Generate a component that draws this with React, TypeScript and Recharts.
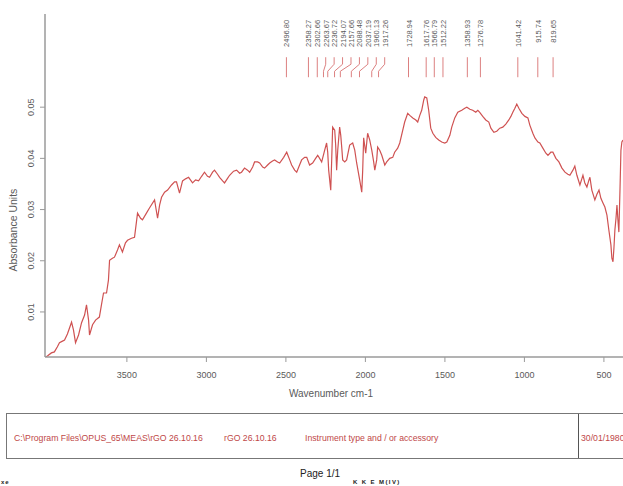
import React from 'react';
import { LineChart, Line, XAxis, YAxis, ReferenceLine, ReferenceDot } from 'recharts';

// spectrum: wavenumber (cm-1) and absorbance
const WAVENUMBER = [
  4012, 4000, 3975, 3956, 3937, 3924, 3905, 3892, 3874, 3848, 3836, 3823, 3804, 3785, 3766, 3754, 3741, 3735, 3716, 3697,
  3673, 3660, 3647, 3628, 3616, 3609, 3591, 3578, 3559, 3547, 3528, 3509, 3496, 3471, 3452, 3433, 3414, 3402, 3377, 3358,
  3326, 3307, 3294, 3282, 3263, 3244, 3219, 3200, 3188, 3169, 3150, 3131, 3112, 3087, 3068, 3049, 3030, 3012, 2993, 2980,
  2961, 2949, 2930, 2917, 2898, 2886, 2867, 2854, 2829, 2810, 2791, 2779, 2760, 2741, 2728, 2709, 2697, 2678, 2665, 2646,
  2634, 2615, 2602, 2584, 2571, 2552, 2539, 2514, 2495, 2476, 2464, 2445, 2432, 2414, 2401, 2382, 2369, 2351, 2332, 2313,
  2300, 2288, 2275, 2256, 2244, 2237, 2231, 2218, 2212, 2206, 2193, 2187, 2181, 2174, 2162, 2155, 2149, 2143, 2130, 2118,
  2099, 2080, 2067, 2055, 2036, 2023, 2017, 2011, 1998, 1986, 1973, 1960, 1948, 1941, 1929, 1923, 1910, 1897, 1878, 1866,
  1847, 1828, 1816, 1797, 1784, 1765, 1753, 1734, 1721, 1702, 1683, 1671, 1658, 1646, 1633, 1627, 1614, 1602, 1589, 1576,
  1558, 1539, 1520, 1501, 1488, 1469, 1457, 1438, 1419, 1394, 1375, 1362, 1343, 1325, 1306, 1293, 1281, 1262, 1243, 1224,
  1211, 1192, 1174, 1155, 1136, 1117, 1098, 1085, 1073, 1060, 1048, 1035, 1016, 997, 978, 966, 947, 934, 915, 903,
  884, 865, 852, 834, 821, 802, 783, 764, 745, 727, 714, 695, 683, 670, 651, 638, 632, 620, 607, 594,
  588, 576, 557, 544, 531, 519, 506, 494, 481, 469, 456, 450, 443, 437, 431, 424, 418, 412, 406, 399,
  393, 387, 380,
];

const ABSORBANCE = [
  0.0012, 0.0014, 0.0020, 0.0022, 0.0032, 0.0040, 0.0043, 0.0045, 0.0057, 0.0080, 0.0065, 0.0040, 0.0055, 0.0079, 0.0094, 0.0114, 0.0084, 0.0055, 0.0075, 0.0084,
  0.0090, 0.0114, 0.0137, 0.0137, 0.0162, 0.0201, 0.0205, 0.0207, 0.0221, 0.0231, 0.0217, 0.0235, 0.0240, 0.0244, 0.0246, 0.0293, 0.0283, 0.0280, 0.0293, 0.0303,
  0.0319, 0.0283, 0.0309, 0.0324, 0.0334, 0.0338, 0.0348, 0.0354, 0.0354, 0.0332, 0.0356, 0.0360, 0.0363, 0.0352, 0.0358, 0.0356, 0.0365, 0.0373, 0.0365, 0.0363,
  0.0373, 0.0377, 0.0369, 0.0363, 0.0356, 0.0352, 0.0361, 0.0367, 0.0375, 0.0377, 0.0371, 0.0373, 0.0381, 0.0377, 0.0373, 0.0383, 0.0393, 0.0393, 0.0391, 0.0383,
  0.0381, 0.0387, 0.0391, 0.0395, 0.0397, 0.0393, 0.0391, 0.0402, 0.0412, 0.0397, 0.0387, 0.0377, 0.0373, 0.0387, 0.0397, 0.0402, 0.0402, 0.0387, 0.0391, 0.0400,
  0.0406, 0.0400, 0.0393, 0.0416, 0.0430, 0.0412, 0.0377, 0.0338, 0.0397, 0.0461, 0.0455, 0.0426, 0.0377, 0.0416, 0.0461, 0.0445, 0.0422, 0.0397, 0.0393, 0.0397,
  0.0426, 0.0430, 0.0416, 0.0391, 0.0358, 0.0334, 0.0377, 0.0440, 0.0410, 0.0449, 0.0436, 0.0416, 0.0393, 0.0377, 0.0397, 0.0422, 0.0416, 0.0406, 0.0387, 0.0393,
  0.0400, 0.0402, 0.0412, 0.0420, 0.0430, 0.0455, 0.0471, 0.0488, 0.0484, 0.0479, 0.0475, 0.0471, 0.0484, 0.0494, 0.0514, 0.0520, 0.0518, 0.0494, 0.0459, 0.0449,
  0.0441, 0.0436, 0.0432, 0.0430, 0.0432, 0.0445, 0.0461, 0.0479, 0.0490, 0.0494, 0.0498, 0.0500, 0.0496, 0.0494, 0.0490, 0.0494, 0.0490, 0.0482, 0.0475, 0.0471,
  0.0459, 0.0451, 0.0453, 0.0459, 0.0461, 0.0467, 0.0475, 0.0482, 0.0490, 0.0498, 0.0506, 0.0498, 0.0488, 0.0482, 0.0479, 0.0465, 0.0449, 0.0440, 0.0432, 0.0430,
  0.0420, 0.0410, 0.0406, 0.0412, 0.0412, 0.0400, 0.0393, 0.0381, 0.0373, 0.0369, 0.0367, 0.0377, 0.0385, 0.0367, 0.0348, 0.0361, 0.0367, 0.0352, 0.0344, 0.0358,
  0.0363, 0.0338, 0.0319, 0.0330, 0.0338, 0.0322, 0.0313, 0.0305, 0.0289, 0.0260, 0.0231, 0.0205, 0.0198, 0.0225, 0.0260, 0.0283, 0.0309, 0.0280, 0.0256, 0.0338,
  0.0416, 0.0432, 0.0436,
];

// picked peaks shown above the spectrum
const PEAKS = [
  2496.8, 2358.27, 2302.66, 2263.67, 2236.72, 2194.07, 2157.66, 2088.48, 2037.19, 1960.13,
  1917.26, 1728.94, 1617.76, 1566.79, 1512.22, 1358.93, 1276.78, 1041.42, 915.74, 819.65,
];

const X_TICKS = [3500, 3000, 2500, 2000, 1500, 1000, 500];
const Y_TICKS = [0.01, 0.02, 0.03, 0.04, 0.05];

const FONT = '"Liberation Sans", Arial, sans-serif';
const AXIS_GREY = '#9a9a9a';
const TEXT_GREY = '#5a5a5a';
const CURVE_RED = '#cf5252';
const PEAK_RED = '#dc8080';
const BOX_RED = '#c04848';

const X_DOMAIN: [number, number] = [380, 4015];
const Y_DOMAIN: [number, number] = [0.0012, 0.0682];

// heights (absorbance units) of the peak marker lines and label anchor
const MARK_TOP = 0.05976;
const MARK_BEND1 = 0.05839;
const MARK_BEND2 = 0.05702;
const MARK_BOTTOM = 0.05585;
const LABEL_Y = 0.06707;
const LABEL_GAP = 53; // cm-1 between neighbouring labels

const spectrum = WAVENUMBER.map((w, i) => ({ w, a: ABSORBANCE[i] })).filter((d) => d.a !== undefined);

// push crowded labels apart, lines bend back to the real peak
const peakLabels: { p: number; lx: number }[] = [];
let prevLabel = Infinity;
PEAKS.forEach((p) => {
  const lx = Math.min(p, prevLabel - LABEL_GAP);
  peakLabels.push({ p, lx: Math.abs(lx - p) < 3 ? p : lx });
  prevLabel = lx;
});

const YTick = (props: any) => {
  const { x, y, payload } = props;
  const tx = x - 4;
  return (
    <text
      x={tx}
      y={y}
      transform={`rotate(-90 ${tx} ${y})`}
      textAnchor="middle"
      fontSize={9}
      fill={TEXT_GREY}
      fontFamily={FONT}
    >
      {payload.value.toFixed(2)}
    </text>
  );
};

const peakText = (label: string) => (props: any) => {
  const { cx, cy } = props;
  const tx = cx + 3;
  return (
    <text
      x={tx}
      y={cy}
      transform={`rotate(-90 ${tx} ${cy})`}
      textAnchor="end"
      fontSize={7.5}
      fill={TEXT_GREY}
      fontFamily={FONT}
    >
      {label}
    </text>
  );
};

const yTitle = (props: any) => {
  const vb = props.viewBox || { x: 0, y: 14, width: 45, height: 343 };
  const tx = vb.x + 17;
  const ty = vb.y + vb.height * 0.63;
  return (
    <text
      x={tx}
      y={ty}
      transform={`rotate(-90 ${tx} ${ty})`}
      textAnchor="middle"
      fontSize={10.5}
      fill={TEXT_GREY}
      fontFamily={FONT}
    >
      Absorbance Units
    </text>
  );
};

const xTitle = (props: any) => {
  const vb = props.viewBox || { x: 45, y: 357, width: 578, height: 40 };
  return (
    <text
      x={vb.x + vb.width / 2 - 3}
      y={vb.y + 39.5}
      textAnchor="middle"
      fontSize={10}
      fill={TEXT_GREY}
      fontFamily={FONT}
    >
      Wavenumber cm-1
    </text>
  );
};

const boxText: React.CSSProperties = {
  position: 'absolute',
  top: 19,
  fontSize: 8.7,
  lineHeight: '10px',
  color: BOX_RED,
  fontFamily: FONT,
  whiteSpace: 'nowrap',
};

export default function App() {
  return (
    <div
      style={{
        position: 'absolute',
        left: 0,
        top: 0,
        width: 623,
        height: 486,
        overflow: 'hidden',
        background: '#fff',
        fontFamily: FONT,
      }}
    >
      <LineChart width={623} height={405} data={spectrum} margin={{ top: 14, right: 0, bottom: 8, left: 0 }}>
        <XAxis
          dataKey="w"
          type="number"
          domain={X_DOMAIN}
          reversed
          allowDataOverflow
          ticks={X_TICKS}
          height={40}
          tickSize={5}
          tickMargin={10}
          axisLine={{ stroke: AXIS_GREY, strokeWidth: 1.5 }}
          tickLine={{ stroke: AXIS_GREY }}
          tick={{ fontSize: 9, fill: TEXT_GREY, fontFamily: FONT }}
          label={{ content: xTitle }}
        />
        <XAxis
          xAxisId="top"
          orientation="top"
          type="number"
          domain={X_DOMAIN}
          reversed
          allowDataOverflow
          height={0}
          tick={false}
          tickLine={false}
          axisLine={{ stroke: AXIS_GREY, strokeWidth: 1.5 }}
        />
        <YAxis
          type="number"
          domain={Y_DOMAIN}
          allowDataOverflow
          ticks={Y_TICKS}
          width={45}
          tickSize={5}
          axisLine={{ stroke: AXIS_GREY, strokeWidth: 1.5 }}
          tickLine={{ stroke: AXIS_GREY }}
          tick={<YTick />}
          label={{ content: yTitle }}
        />
        {peakLabels.map(({ p, lx }) =>
          lx === p ? (
            <ReferenceLine
              key={`l${p}`}
              segment={[{ x: p, y: MARK_TOP }, { x: p, y: MARK_BOTTOM }]}
              stroke={PEAK_RED}
              strokeWidth={1}
            />
          ) : (
            <React.Fragment key={`l${p}`}>
              <ReferenceLine
                segment={[{ x: lx, y: MARK_TOP }, { x: lx, y: MARK_BEND1 }]}
                stroke={PEAK_RED}
                strokeWidth={1}
              />
              <ReferenceLine
                segment={[{ x: lx, y: MARK_BEND1 }, { x: p, y: MARK_BEND2 }]}
                stroke={PEAK_RED}
                strokeWidth={1}
              />
              <ReferenceLine
                segment={[{ x: p, y: MARK_BEND2 }, { x: p, y: MARK_BOTTOM }]}
                stroke={PEAK_RED}
                strokeWidth={1}
              />
            </React.Fragment>
          )
        )}
        {peakLabels.map(({ p, lx }) => (
          <ReferenceDot key={`t${p}`} x={lx} y={LABEL_Y} r={1} shape={peakText(p.toFixed(2))} />
        ))}
        <Line
          type="linear"
          dataKey="a"
          stroke={CURVE_RED}
          strokeWidth={1.2}
          dot={false}
          isAnimationActive={false}
        />
      </LineChart>

      <div
        style={{
          position: 'absolute',
          left: 6,
          top: 413,
          width: 640,
          height: 46,
          border: '1.5px solid #777',
          boxSizing: 'border-box',
        }}
      >
        <div style={{ ...boxText, left: 7 }}>C:\Program Files\OPUS_65\MEAS\rGO 26.10.16</div>
        <div style={{ ...boxText, left: 217 }}>rGO 26.10.16</div>
        <div style={{ ...boxText, left: 298 }}>Instrument type and / or accessory</div>
        <div style={{ position: 'absolute', left: 571, top: 0, bottom: 0, borderLeft: '1.5px solid #555' }} />
        <div style={{ ...boxText, left: 574 }}>30/01/1980</div>
      </div>

      <div style={{ position: 'absolute', left: 300, top: 468, fontSize: 10, lineHeight: '12px', color: '#222' }}>
        Page 1/1
      </div>
      <div
        style={{
          position: 'absolute',
          left: 353,
          top: 479,
          fontSize: 6,
          lineHeight: '7px',
          fontWeight: 'bold',
          letterSpacing: 1.4,
          color: '#222',
        }}
      >
        K K E M(IV)
      </div>
      <div
        style={{
          position: 'absolute',
          left: 1,
          top: 479,
          fontSize: 6,
          lineHeight: '7px',
          fontWeight: 'bold',
          letterSpacing: 1,
          color: '#222',
        }}
      >
        xe
      </div>
    </div>
  );
}
